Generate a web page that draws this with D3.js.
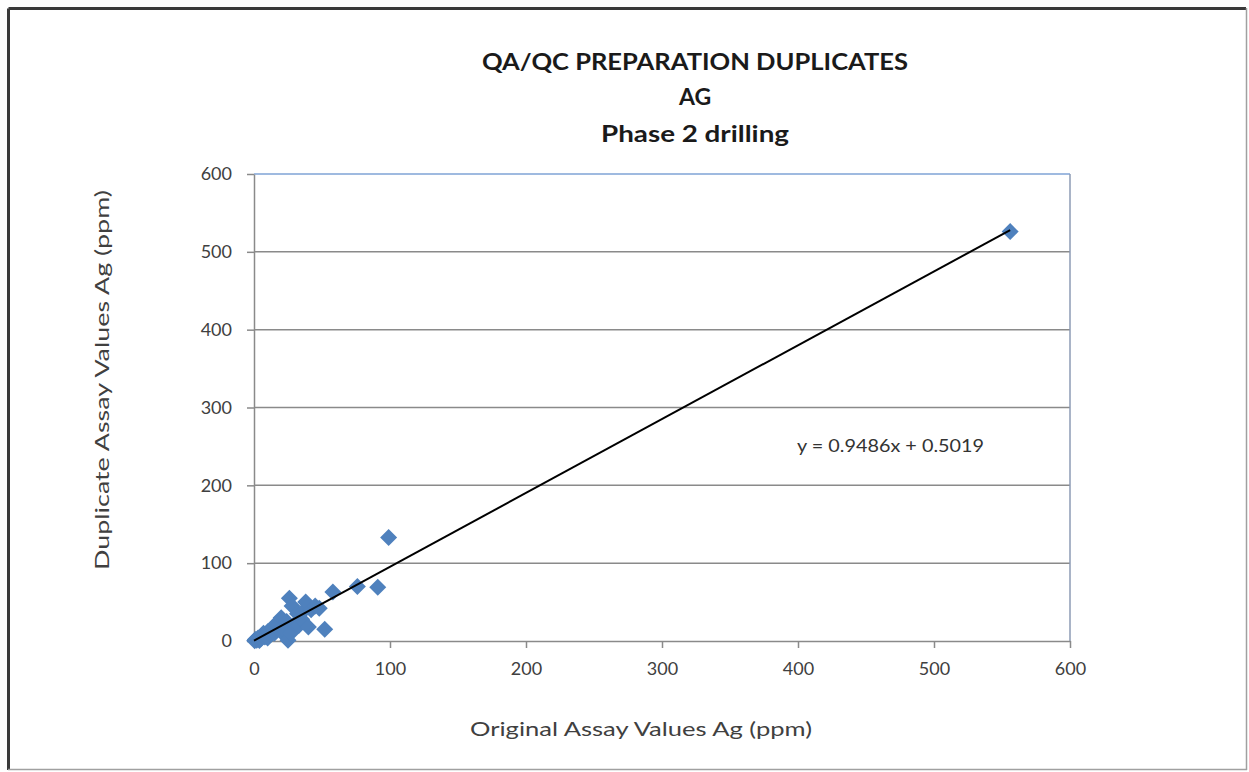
<!DOCTYPE html>
<html><head><meta charset="utf-8">
<script src="https://cdn.jsdelivr.net/npm/d3@7"></script>
<style>html,body{margin:0;padding:0;background:#fff;}svg{display:block;}</style>
</head><body>
<svg id="c" width="1249" height="772"></svg>
<script>
const titleLines = ["QA/QC PREPARATION  DUPLICATES", "AG", "Phase 2 drilling"];
const xLabel = "Original Assay Values Ag (ppm)";
const yLabel = "Duplicate Assay Values Ag (ppm)";
const xTicks = [0, 100, 200, 300, 400, 500, 600];
const yTicks = [0, 100, 200, 300, 400, 500, 600];
const origX = [0.5, 1, 2, 3, 4, 5, 6, 7, 8, 10, 10, 12, 14, 15, 16, 18, 20, 20, 22, 24, 25, 26, 27, 28, 30, 32, 33, 35, 36, 38, 40, 42, 45, 48, 52, 58, 76, 91, 99, 556];
const dupY  = [0.3, 2, 1, 4, 0.5, 3, 7, 10, 5, 12, 4, 8, 16, 10, 22, 20, 30, 12, 14, 25, 1, 55, 10, 45, 22, 35, 20, 28, 38, 50, 18, 40, 45, 42, 15, 63, 70, 69, 133, 526];
const slope = 0.9486, intercept = 0.5019;
const eqText = "y = 0.9486x + 0.5019";

const svg = d3.select("#c");
const font = "Lato, 'Open Sans', sans-serif";

// outer frame
svg.append("line").attr("x1",8.5).attr("y1",8.5).attr("x2",1246).attr("y2",8.5).attr("stroke","#3a3a3a").attr("stroke-width",3);
svg.append("line").attr("x1",8.5).attr("y1",8.5).attr("x2",8.5).attr("y2",770).attr("stroke","#3a3a3a").attr("stroke-width",3);
svg.append("line").attr("x1",1246.5).attr("y1",8).attr("x2",1246.5).attr("y2",770).attr("stroke","#a0a0a0").attr("stroke-width",1.5);
svg.append("line").attr("x1",8).attr("y1",769.5).attr("x2",1247).attr("y2",769.5).attr("stroke","#a0a0a0").attr("stroke-width",1.5);

const x = d3.scaleLinear().domain([0,600]).range([254,1070]);
const y = d3.scaleLinear().domain([0,600]).range([641,174]);

// grid
svg.append("g").selectAll("line").data(yTicks.filter(v=>v>0 && v<600)).join("line")
  .attr("x1",x(0)).attr("x2",x(600)).attr("y1",d=>y(d)).attr("y2",d=>y(d))
  .attr("stroke","#8a8a8a").attr("stroke-width",1.5);
// plot border top/right
svg.append("line").attr("x1",x(0)).attr("x2",x(600)).attr("y1",y(600)).attr("y2",y(600)).attr("stroke","#7fa3d6").attr("stroke-width",1.5);
svg.append("line").attr("x1",x(600)).attr("x2",x(600)).attr("y1",y(600)).attr("y2",y(0)).attr("stroke","#8d9bb5").attr("stroke-width",1.5);

// axes
const yAxis = d3.axisLeft(y).tickValues(yTicks).tickSize(7).tickPadding(15).tickSizeOuter(0);
const gy = svg.append("g").attr("transform",`translate(${x(0)},0)`).call(yAxis);
const xAxis = d3.axisBottom(x).tickValues(xTicks).tickSize(7).tickPadding(14).tickSizeOuter(0);
const gx = svg.append("g").attr("transform",`translate(0,${y(0)})`).call(xAxis);
[gx, gy].forEach(g=>{
  g.select(".domain").attr("stroke","#8a8a8a").attr("stroke-width",1.5);
  g.selectAll(".tick line").attr("stroke","#8a8a8a").attr("stroke-width",1.5);
  g.selectAll(".tick text").attr("fill","#404040").attr("font-family",font).attr("font-size",18);
});

// points
const pts = origX.map((v,i)=>({x:v,y:dupY[i]}));
const r = 8.5;
svg.append("g").selectAll("path").data(pts).join("path")
  .attr("d",d=>{const cx=x(d.x), cy=y(d.y); return `M${cx},${cy-r}L${cx+r},${cy}L${cx},${cy+r}L${cx-r},${cy}Z`;})
  .attr("fill","#4f81bd");

// trendline
const xmax = d3.max(origX);
svg.append("line").attr("x1",x(0)).attr("y1",y(intercept))
  .attr("x2",x(xmax)).attr("y2",y(slope*xmax+intercept))
  .attr("stroke","#000").attr("stroke-width",2);

// equation
svg.append("text").attr("x",797).attr("y",452).attr("fill","#333").attr("font-family",font)
  .attr("font-size",18).attr("textLength",187).attr("lengthAdjust","spacingAndGlyphs").text(eqText);

// titles
const tl = [{t:titleLines[0],y:70,w:426},{t:titleLines[1],y:105,w:null},{t:titleLines[2],y:142,w:188}];
tl.forEach(o=>{
  const t = svg.append("text").attr("x",695).attr("y",o.y).attr("text-anchor","middle")
    .attr("font-family",font).attr("font-weight","bold").attr("font-size",23).attr("fill","#1a1a1a").text(o.t);
  if(o.w) t.attr("textLength",o.w).attr("lengthAdjust","spacingAndGlyphs");
});

// axis labels
svg.append("text").attr("x",641).attr("y",736).attr("text-anchor","middle").attr("font-family",font)
  .attr("font-size",20).attr("fill","#404040").attr("textLength",342).attr("lengthAdjust","spacingAndGlyphs").text(xLabel);
svg.append("text").attr("transform","translate(109,380) rotate(-90)").attr("text-anchor","middle").attr("font-family",font)
  .attr("font-size",20).attr("fill","#404040").attr("textLength",380).attr("lengthAdjust","spacingAndGlyphs").text(yLabel);
</script>
</body></html>
